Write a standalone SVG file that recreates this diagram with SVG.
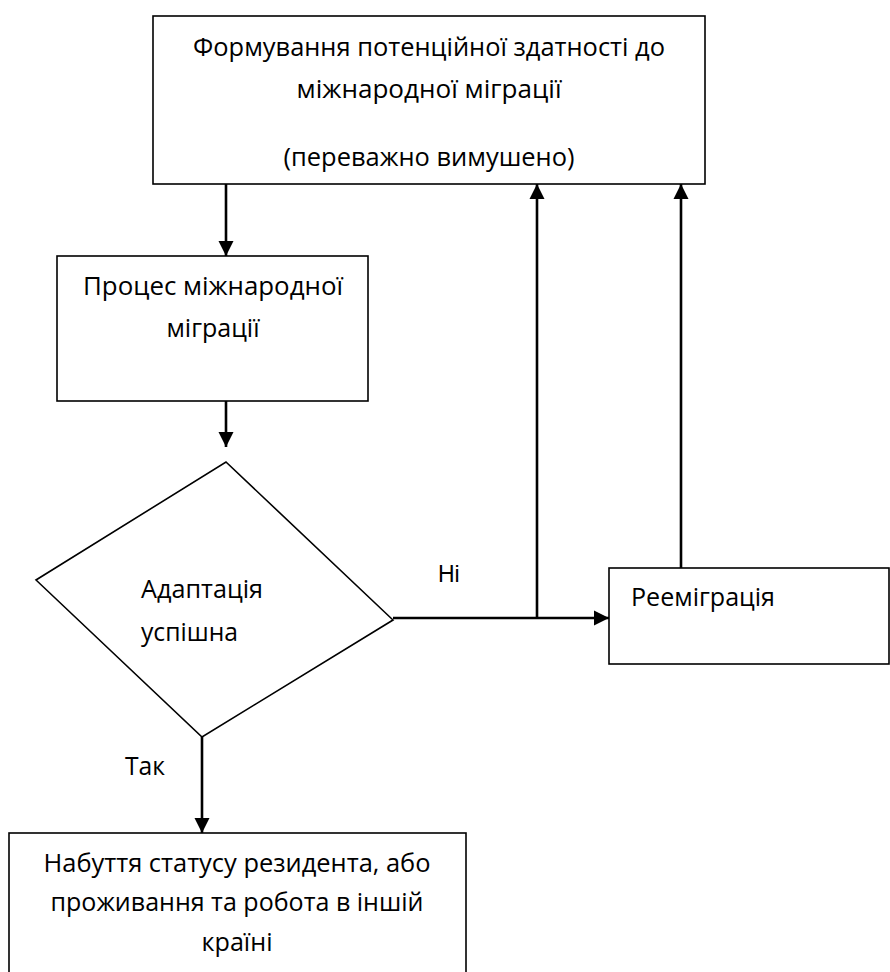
<svg xmlns="http://www.w3.org/2000/svg" width="890" height="972" viewBox="0 0 890 972">
<style>
.box{fill:#fff;stroke:#000;stroke-width:1.6}
.t{font-family:"Open Sans","Noto Sans","DejaVu Sans",sans-serif;font-size:26px;fill:#000}
.c{text-anchor:middle}
.lbl{font-family:"Liberation Sans",Arial,sans-serif;font-size:23px;fill:#000}
.con{fill:none;stroke:#000;stroke-width:2.6}
</style>
<defs>
<marker id="arr" markerUnits="userSpaceOnUse" markerWidth="16" markerHeight="16" viewBox="0 0 16 16" refX="15" refY="8" orient="auto">
<path d="M0,0.5 L15,8 L0,15.5 z" fill="#000"/>
</marker>
</defs>
<rect width="890" height="972" fill="#fff"/>
<g id="connectors">
<path class="con" d="M226,184 V256" marker-end="url(#arr)"/>
<path class="con" d="M226,401 V447" marker-end="url(#arr)"/>
<path class="con" d="M393,618 H609" marker-end="url(#arr)"/>
<path class="con" d="M537,618 V184" marker-end="url(#arr)"/>
<path class="con" d="M681,568 V184" marker-end="url(#arr)"/>
<path class="con" d="M202,737 V833" marker-end="url(#arr)"/>
<text class="lbl" x="438" y="582">Ні</text>
<text class="t" x="125" y="775" textLength="40" lengthAdjust="spacingAndGlyphs">Так</text>
</g>
<g id="node-formation">
<rect class="box" x="153" y="16" width="552" height="168"/>
<text class="t c" x="429" y="56" textLength="472" lengthAdjust="spacingAndGlyphs">Формування потенційної здатності до</text>
<text class="t c" x="429" y="98" textLength="265" lengthAdjust="spacingAndGlyphs">міжнародної міграції</text>
<text class="t c" x="429" y="166" textLength="291" lengthAdjust="spacingAndGlyphs">(переважно вимушено)</text>
</g>
<g id="node-process">
<rect class="box" x="57" y="256" width="311" height="145"/>
<text class="t c" x="213" y="295" textLength="260" lengthAdjust="spacingAndGlyphs">Процес міжнародної</text>
<text class="t c" x="213" y="337" textLength="93" lengthAdjust="spacingAndGlyphs">міграції</text>
</g>
<g id="node-decision">
<path class="box" d="M226,462 L393,620 L202,737 L36,580 Z"/>
<text class="t" x="141" y="598" textLength="122" lengthAdjust="spacingAndGlyphs">Адаптація</text>
<text class="t" x="141" y="641" textLength="97" lengthAdjust="spacingAndGlyphs">успішна</text>
</g>
<g id="node-reemigration">
<rect class="box" x="609" y="568" width="280" height="96"/>
<text class="t" x="631" y="606" textLength="144" lengthAdjust="spacingAndGlyphs">Рееміграція</text>
</g>
<g id="node-result">
<rect class="box" x="9" y="833" width="457" height="160"/>
<text class="t c" x="237" y="872" textLength="387" lengthAdjust="spacingAndGlyphs">Набуття статусу резидента, або</text>
<text class="t c" x="237" y="911" textLength="373" lengthAdjust="spacingAndGlyphs">проживання та робота в іншій</text>
<text class="t c" x="237" y="951" textLength="71" lengthAdjust="spacingAndGlyphs">країні</text>
</g>
</svg>
